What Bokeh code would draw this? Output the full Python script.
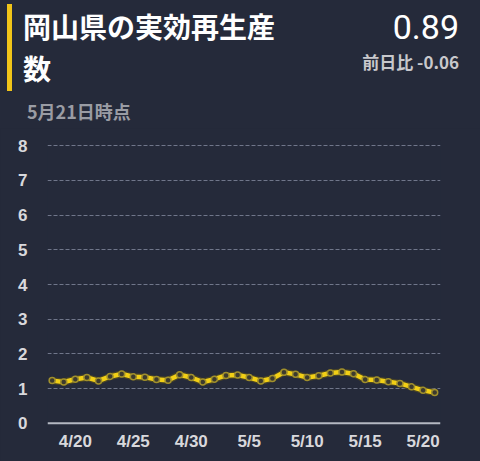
from bokeh.plotting import figure
from bokeh.layouts import column
from bokeh.models import Range1d, FixedTicker, Span, Div
from bokeh.embed import file_html
from bokeh.resources import INLINE

dates = ["4/18", "4/19", "4/20", "4/21", "4/22", "4/23", "4/24", "4/25", "4/26", "4/27",
         "4/28", "4/29", "4/30", "5/1", "5/2", "5/3", "5/4", "5/5", "5/6", "5/7",
         "5/8", "5/9", "5/10", "5/11", "5/12", "5/13", "5/14", "5/15", "5/16", "5/17",
         "5/18", "5/19", "5/20", "5/21"]
values = [1.23, 1.19, 1.27, 1.32, 1.22, 1.35, 1.42, 1.34, 1.33, 1.26,
          1.24, 1.40, 1.32, 1.19, 1.27, 1.38, 1.39, 1.32, 1.22, 1.29,
          1.47, 1.41, 1.32, 1.37, 1.45, 1.48, 1.43, 1.26, 1.25, 1.20,
          1.15, 1.05, 0.95, 0.89]
x_tick_labels = ["4/20", "4/25", "4/30", "5/5", "5/10", "5/15", "5/20"]
y_ticks = [0, 1, 2, 3, 4, 5, 6, 7, 8]

title_line1 = "岡山県の実効再生産"
title_line2 = "数"
latest_text = "0.89"
diff_text = "前日比 -0.06"
asof_text = "5月21日時点"

BG = "#252a3a"
YELLOW = "#f2cf15"
W = 480
HEAD_H = 128
CHART_H = 333
LEFT, RIGHT = 47, 40


def text_block(txt, center_y, size, weight, color, family, left=None, right=None):
    lh = size + 12
    pos = "left:%dpx;" % left if left is not None else "right:%dpx;text-align:right;" % right
    return ('<div style="position:absolute;%stop:%.1fpx;height:%dpx;line-height:%dpx;'
            'font-size:%dpx;font-weight:%s;color:%s;font-family:%s;white-space:nowrap;">%s</div>'
            % (pos, center_y - lh / 2, lh, lh, size, weight, color, family, txt))


CJK = "'Noto Sans CJK JP', sans-serif"
header_html = (
    '<div style="position:relative;width:%dpx;height:%dpx;background:%s;overflow:hidden;">' % (W, HEAD_H, BG)
    + '<div style="position:absolute;left:7px;top:4px;width:5px;height:87px;background:#f0c419;"></div>'
    + text_block(title_line1, 26, 28, "bold", "#ffffff", CJK, left=23)
    + text_block(title_line2, 67.5, 28, "bold", "#ffffff", CJK, left=23)
    + text_block(latest_text, 27, 34, "normal", "#ffffff", "Roboto, sans-serif", right=21)
    + text_block(diff_text, 61.5, 17, "bold", "#c8c8cc", CJK, right=21)
    + text_block(asof_text, 110.5, 18, "bold", "#9a9ca4", CJK, left=27)
    + '</div>'
)
header = Div(text=header_html, width=W, height=HEAD_H,
             styles={"background-color": BG, "margin": "0", "padding": "0"})

p = figure(width=W, height=CHART_H, output_backend="svg", toolbar_location=None,
           x_range=Range1d(-0.4, 33.5), y_range=Range1d(-0.15, 8.15),
           min_border_left=LEFT, min_border_right=RIGHT, min_border_top=12,
           min_border_bottom=33)
p.background_fill_color = BG
p.border_fill_color = BG
p.outline_line_color = None

p.yaxis.ticker = FixedTicker(ticks=y_ticks)
p.yaxis.axis_line_color = None
p.yaxis.major_tick_line_color = None
p.yaxis.minor_tick_line_color = None
p.yaxis.major_tick_out = 0
p.yaxis.major_tick_in = 0
p.yaxis.major_label_standoff = 20
p.yaxis.major_label_text_color = "#d8d8dc"
p.yaxis.major_label_text_font = "Liberation Sans"
p.yaxis.major_label_text_font_style = "bold"
p.yaxis.major_label_text_font_size = "17px"

tick_pos = [dates.index(t) for t in x_tick_labels]
p.xaxis.ticker = FixedTicker(ticks=tick_pos)
p.xaxis.major_label_overrides = {i: dates[i] for i in tick_pos}
p.xaxis.axis_line_color = None
p.xaxis.major_tick_line_color = None
p.xaxis.minor_tick_line_color = None
p.xaxis.major_tick_out = 0
p.xaxis.major_tick_in = 0
p.xaxis.major_label_standoff = 3
p.xaxis.major_label_text_color = "#d8d8dc"
p.xaxis.major_label_text_font = "Liberation Sans"
p.xaxis.major_label_text_font_style = "bold"
p.xaxis.major_label_text_font_size = "17px"

p.xgrid.grid_line_color = None
p.ygrid.ticker = FixedTicker(ticks=y_ticks[1:])
p.ygrid.grid_line_color = "#70768a"
p.ygrid.grid_line_dash = "4 2"
p.ygrid.grid_line_width = 1

p.add_layout(Span(location=0, dimension="width", line_color="#b4b8c2", line_width=2))

xs = list(range(len(dates)))
p.line(xs, values, line_color="#4a4526", line_width=7)
p.line(xs, values, line_color=YELLOW, line_width=4.5)
p.scatter(xs, values, size=6, fill_color="#3c3a2e", line_color="#a08f2c", line_width=1.5)

layout = column(header, p, spacing=0)
html = file_html(layout, INLINE)
html = html.replace("<head>", "<head><style>html,body{background:%s;}</style>" % BG, 1)
open("out.html", "w").write(html)
